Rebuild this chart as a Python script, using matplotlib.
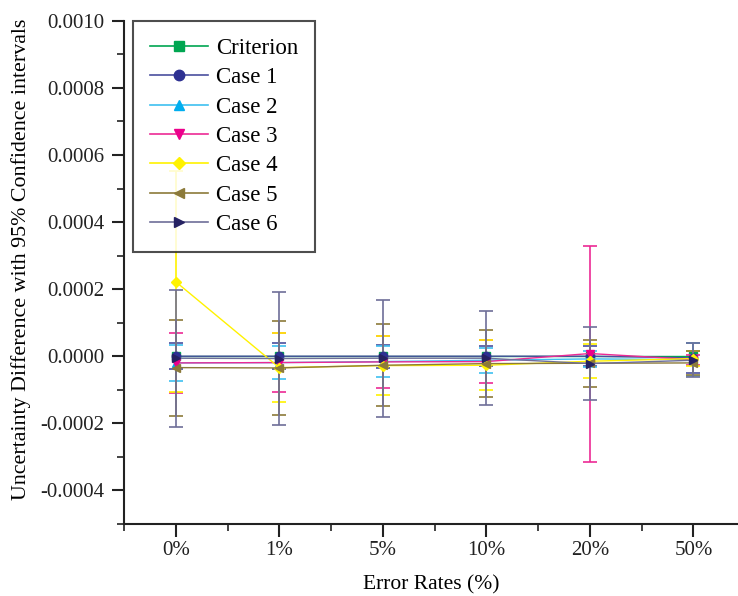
import numpy as np
import matplotlib
matplotlib.use("Agg")
import matplotlib.pyplot as plt
from matplotlib.lines import Line2D
from matplotlib.ticker import MultipleLocator, FormatStrFormatter

plt.rcParams['font.family'] = ['Liberation Serif', 'DejaVu Serif']

# Data
rates = ["0%", "1%", "5%", "10%", "20%", "50%"]

criterion = [0, 0, 0, 0, 0, 0]

case1 = [0.000000, 0.000000, 0.000000, 0.000000, 0.000000, -0.000005]
case1_err = [0.000038, 0.000038, 0.000034, 0.000030, 0.000030, 0.000045]

case2 = [-0.000020, -0.000019, -0.000016, -0.000012, -0.000008, -0.000010]
case2_err = [0.000054, 0.000050, 0.000046, 0.000037, 0.000024, 0.000050]

case3 = [-0.000020, -0.000019, -0.000017, -0.000016, 0.000008, -0.000010]
case3_err = [0.000090, 0.000088, 0.000077, 0.000064, 0.000322, 0.000015]

case4 = [0.000222, -0.000034, -0.000028, -0.000027, -0.000015, -0.000007]
case4_err = [0.000330, 0.000103, 0.000088, 0.000075, 0.000050, 0.000023]

case5 = [-0.000034, -0.000035, -0.000027, -0.000022, -0.000021, -0.000020]
case5_err = [0.000143, 0.000139, 0.000122, 0.000099, 0.000070, 0.000036]

case6 = [-0.000006, -0.000007, -0.000006, -0.000006, -0.000022, -0.000012]
case6_err = [0.000204, 0.000197, 0.000174, 0.000140, 0.000109, 0.000050]

x = np.arange(len(rates))

fig = plt.figure(figsize=(7.38, 5.96), dpi=100)
ax = fig.add_axes([0.168, 0.121, 0.832, 0.844])

handles = []
ax.plot(x, criterion, color="#00a651", lw=1, marker="s", ms=6,
        mfc="#00a651", mec="#00a651")
handles.append(Line2D([], [], color="#00a651", lw=1.2, marker="s", ms=7,
                      mfc="#00a651", mec="#00a651", label="Criterion"))

series = [
    ("Case 1", case1, case1_err, "#4a4f9e", "#2e3192", "o"),
    ("Case 2", case2, case2_err, "#3ec0f0", "#00aeef", "^"),
    ("Case 3", case3, case3_err, "#ec2a95", "#ec008c", "v"),
    ("Case 4", case4, case4_err, "#fff200", "#fff200", "D"),
    ("Case 5", case5, case5_err, "#8c7a3a", "#8c7a3a", "<"),
    ("Case 6", case6, case6_err, "#6e6e98", "#262262", ">"),
]
for name, vals, errs, lc, mc, mk in series:
    ms = 6 if mk != "D" else 5
    ax.errorbar(x, vals, yerr=errs, color=lc, lw=1, elinewidth=1.2,
                capsize=5, capthick=1.2, marker=mk, ms=ms,
                mfc=mc, mec=mc)
    handles.append(Line2D([], [], color=lc, lw=1.2, marker=mk, ms=ms + 1.5,
                          mfc=mc, mec=mc, label=name))

ax.set_xlim(-0.5, 5.43)
ax.set_ylim(-0.0005, 0.0010)
ax.set_xticks(x)
ax.set_xticklabels(rates)
ax.set_xticks(np.arange(-0.5, 5.5, 1), minor=True)
ax.yaxis.set_major_locator(MultipleLocator(0.0002))
ax.yaxis.set_minor_locator(MultipleLocator(0.0001))
ax.yaxis.set_major_formatter(FormatStrFormatter("%.4f"))

for side in ["top", "right"]:
    ax.spines[side].set_visible(False)
for side in ["left", "bottom"]:
    ax.spines[side].set_linewidth(1.5)
    ax.spines[side].set_color("#222222")

ax.tick_params(which="major", direction="out", length=9, width=1.5,
               labelsize=15, colors="#222222", pad=5)
ax.tick_params(which="minor", direction="out", length=5, width=1.2,
               colors="#222222")
ax.tick_params(axis="x", which="major", pad=3)

ax.set_xlabel("Error Rates (%)", fontsize=15.5, labelpad=11)
ax.set_ylabel("Uncertainty Difference with 95% Confidence intervals",
              fontsize=15.8)
ax.yaxis.set_label_coords(-0.152, 0.525)

leg = ax.legend(handles=handles, loc="upper left",
                bbox_to_anchor=(0.015, 1.0), borderaxespad=0,
                fontsize=16.5, handlelength=2.5, handletextpad=0.35,
                labelspacing=0.36, borderpad=0.75, fancybox=False,
                frameon=True)
leg.get_frame().set_edgecolor("#222222")
leg.get_frame().set_linewidth(1.5)

fig.savefig("out.png", dpi=100)
